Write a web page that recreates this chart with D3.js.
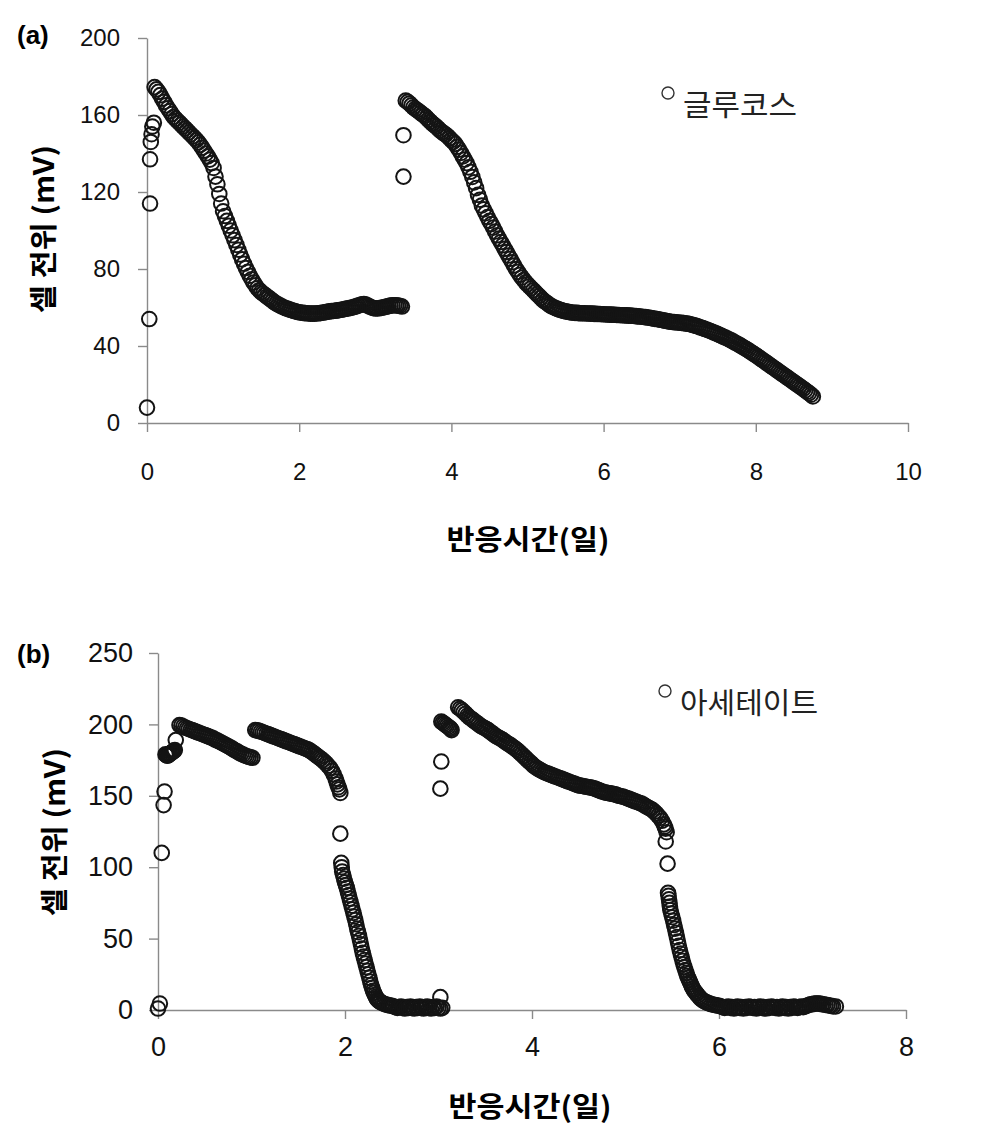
<!DOCTYPE html>
<html>
<head>
<meta charset="utf-8">
<script src="https://cdn.jsdelivr.net/npm/d3@7"></script>
<style>
  html, body { margin: 0; padding: 0; background: #fff; }
  .axis .domain, .axis .tick line { stroke: #8a8a8a; stroke-width: 1.4; }
  .axis .tick text { font-family: "Liberation Sans", Arial, sans-serif; fill: #111; }
</style>
</head>
<body>
<div id="chart"></div>
<script>
// ---- data: [day, mV] ----
// (a) glucose, two feeding runs
const glucoseRun1 = [
  [0, 8], [0.03, 54], [0.04, 114], [0.04, 137], [0.05, 146], [0.06, 150], [0.07, 154], [0.09, 156],
  [0.100, 174.5], [0.125, 173.3], [0.150, 172], [0.175, 170.3], [0.200, 168.5], [0.225, 166.8],
  [0.250, 165], [0.275, 163.5], [0.300, 162], [0.325, 160.5], [0.350, 159], [0.375, 158],
  [0.400, 157], [0.425, 156], [0.450, 155], [0.475, 154], [0.500, 153], [0.525, 152],
  [0.550, 151], [0.575, 150], [0.600, 149], [0.625, 148], [0.650, 147], [0.675, 145.8],
  [0.700, 144.5], [0.725, 143], [0.750, 141.5], [0.775, 140], [0.800, 138.5], [0.825, 136.8],
  [0.850, 135], [0.875, 132.5], [0.900, 128], [0.925, 124], [0.950, 119], [0.975, 114],
  [1.000, 110], [1.025, 107.5], [1.050, 105], [1.075, 102.5], [1.100, 100], [1.125, 97.5],
  [1.150, 95], [1.175, 92.5], [1.200, 90], [1.225, 87.5], [1.250, 85], [1.275, 82.7],
  [1.300, 80.5], [1.325, 78.5], [1.350, 76.5], [1.375, 74.7], [1.400, 73], [1.425, 71.5],
  [1.450, 70], [1.475, 69], [1.500, 68], [1.525, 67.2], [1.550, 66.5], [1.575, 65.7],
  [1.600, 65], [1.625, 64.2], [1.650, 63.5], [1.675, 62.7], [1.700, 62], [1.725, 61.5],
  [1.750, 61], [1.775, 60.5], [1.800, 60], [1.825, 59.6], [1.850, 59.3], [1.875, 58.9],
  [1.900, 58.6], [1.925, 58.3], [1.950, 58], [1.975, 57.7], [2.000, 57.5], [2.025, 57.3],
  [2.050, 57.2], [2.075, 57.1], [2.100, 57], [2.125, 56.9], [2.150, 56.8], [2.175, 56.8],
  [2.200, 56.8], [2.225, 56.9], [2.250, 57], [2.275, 57.1], [2.300, 57.3], [2.325, 57.4],
  [2.350, 57.6], [2.375, 57.8], [2.400, 58], [2.425, 58.1], [2.450, 58.2], [2.475, 58.3],
  [2.500, 58.5], [2.525, 58.6], [2.550, 58.8], [2.575, 59], [2.600, 59.2], [2.625, 59.4],
  [2.650, 59.6], [2.675, 59.8], [2.700, 60], [2.725, 60.3], [2.750, 60.6], [2.775, 61],
  [2.800, 61.3], [2.825, 61.6], [2.850, 61.8], [2.875, 61.5], [2.900, 61], [2.925, 60.5],
  [2.950, 60], [2.975, 59.7], [3.000, 59.5], [3.025, 59.5], [3.050, 59.6], [3.075, 59.8],
  [3.100, 60], [3.125, 60.2], [3.150, 60.5], [3.175, 60.7], [3.200, 61], [3.225, 61.1],
  [3.250, 61.2], [3.275, 61.1], [3.300, 61], [3.325, 60.8], [3.350, 60.5]
];
const glucoseRun2 = [
  [3.37, 128], [3.37, 149.5],
  [3.400, 167.5], [3.425, 166.8], [3.450, 166], [3.475, 165], [3.500, 164], [3.525, 163.2],
  [3.550, 162.5], [3.575, 161.8], [3.600, 161], [3.625, 160.2], [3.650, 159.5], [3.675, 158.5],
  [3.700, 157.5], [3.725, 156.5], [3.750, 155.5], [3.775, 154.8], [3.800, 154], [3.825, 153],
  [3.850, 152], [3.875, 151.2], [3.900, 150.5], [3.925, 149.8], [3.950, 149], [3.975, 148],
  [4.000, 147], [4.025, 146], [4.050, 145], [4.075, 143.5], [4.100, 142], [4.125, 140.3],
  [4.150, 138.5], [4.175, 136.8], [4.200, 135], [4.225, 132.8], [4.250, 130.5], [4.275, 127.8],
  [4.300, 125], [4.325, 122], [4.350, 118.5], [4.375, 116], [4.400, 113], [4.425, 111],
  [4.450, 109], [4.475, 107], [4.500, 105], [4.525, 103.3], [4.550, 101.5], [4.575, 99.5],
  [4.600, 97.5], [4.625, 95.8], [4.650, 94], [4.675, 92.3], [4.700, 90.5], [4.725, 88.8],
  [4.750, 87], [4.775, 85.3], [4.800, 83.5], [4.825, 81.8], [4.850, 80], [4.875, 78.5],
  [4.900, 77], [4.925, 75.6], [4.950, 74.3], [4.975, 73.1], [5.000, 72], [5.025, 71],
  [5.050, 70], [5.075, 69], [5.100, 68], [5.125, 67], [5.150, 66], [5.175, 65],
  [5.200, 64], [5.225, 63.2], [5.250, 62.5], [5.275, 61.7], [5.300, 61], [5.325, 60.5],
  [5.350, 60], [5.375, 59.6], [5.400, 59.2], [5.425, 58.8], [5.450, 58.5], [5.475, 58.2],
  [5.500, 58], [5.525, 57.8], [5.550, 57.6], [5.575, 57.4], [5.600, 57.3], [5.625, 57.2],
  [5.650, 57.2], [5.675, 57.1], [5.700, 57], [5.725, 57], [5.750, 57], [5.775, 56.9],
  [5.800, 56.9], [5.825, 56.8], [5.850, 56.8], [5.875, 56.7], [5.900, 56.7], [5.925, 56.6],
  [5.950, 56.6], [5.975, 56.5], [6.000, 56.5], [6.025, 56.4], [6.050, 56.4], [6.075, 56.3],
  [6.100, 56.3], [6.125, 56.2], [6.150, 56.2], [6.175, 56.1], [6.200, 56.1], [6.225, 56],
  [6.250, 56], [6.275, 55.9], [6.300, 55.9], [6.325, 55.8], [6.350, 55.8], [6.375, 55.7],
  [6.400, 55.6], [6.425, 55.5], [6.450, 55.4], [6.475, 55.3], [6.500, 55.2], [6.525, 55.1],
  [6.550, 55], [6.575, 54.8], [6.600, 54.7], [6.625, 54.5], [6.650, 54.3], [6.675, 54.1],
  [6.700, 54], [6.725, 53.8], [6.750, 53.6], [6.775, 53.4], [6.800, 53.2], [6.825, 53],
  [6.850, 52.8], [6.875, 52.6], [6.900, 52.5], [6.925, 52.4], [6.950, 52.3], [6.975, 52.2],
  [7.000, 52.1], [7.025, 52], [7.050, 51.9], [7.075, 51.7], [7.100, 51.6], [7.125, 51.4],
  [7.150, 51.2], [7.175, 50.9], [7.200, 50.6], [7.225, 50.3], [7.250, 50], [7.275, 49.6],
  [7.300, 49.3], [7.325, 48.9], [7.350, 48.6], [7.375, 48.2], [7.400, 47.8], [7.425, 47.4],
  [7.450, 47], [7.475, 46.6], [7.500, 46.2], [7.525, 45.7], [7.550, 45.3], [7.575, 44.8],
  [7.600, 44.4], [7.625, 43.9], [7.650, 43.4], [7.675, 42.9], [7.700, 42.4], [7.725, 41.8],
  [7.750, 41.3], [7.775, 40.7], [7.800, 40.2], [7.825, 39.6], [7.850, 39], [7.875, 38.4],
  [7.900, 37.8], [7.925, 37.1], [7.950, 36.5], [7.975, 35.8], [8.000, 35.2], [8.025, 34.5],
  [8.050, 33.8], [8.075, 33.1], [8.100, 32.4], [8.125, 31.7], [8.150, 31], [8.175, 30.3],
  [8.200, 29.6], [8.225, 28.9], [8.250, 28.2], [8.275, 27.5], [8.300, 26.8], [8.325, 26.1],
  [8.350, 25.4], [8.375, 24.7], [8.400, 24], [8.425, 23.3], [8.450, 22.6], [8.475, 21.9],
  [8.500, 21.2], [8.525, 20.5], [8.550, 19.8], [8.575, 19.1], [8.600, 18.4], [8.625, 17.7],
  [8.650, 17], [8.675, 16.2], [8.700, 15.5], [8.725, 14.7], [8.750, 13.8]
];

// (b) acetate, three feeding runs
const acetateRun1 = [
  [0.00, 1], [0.02, 4.5], [0.04, 110], [0.06, 143.5], [0.07, 153],
  [0.08, 179], [0.09, 178.5], [0.10, 178], [0.11, 178.5], [0.12, 179], [0.13, 179.5],
  [0.14, 180], [0.15, 180.5], [0.16, 181], [0.17, 181.5], [0.18, 182], [0.19, 189],
  [0.23, 199.5], [0.25, 199.2], [0.27, 198.5], [0.29, 197.8], [0.31, 197.3], [0.33, 196.8],
  [0.35, 196.3], [0.37, 195.8], [0.39, 195.3], [0.41, 194.8], [0.43, 194.3], [0.45, 193.8],
  [0.47, 193.3], [0.49, 192.8], [0.51, 192.3], [0.53, 191.8], [0.55, 191.3], [0.57, 190.8],
  [0.59, 190.2], [0.61, 189.4], [0.63, 188.8], [0.65, 188.2], [0.67, 187.5], [0.69, 186.8],
  [0.71, 186.1], [0.73, 185.4], [0.75, 184.7], [0.77, 184], [0.79, 183.2], [0.81, 182.4],
  [0.83, 181.6], [0.85, 180.9], [0.87, 180.1], [0.89, 179.4], [0.91, 178.8], [0.93, 178.2],
  [0.95, 177.7], [0.97, 177.3], [0.99, 176.9], [1.01, 176.6]
];
const acetateRun2 = [
  [1.04, 196], [1.06, 195.8], [1.08, 195.5], [1.10, 195], [1.12, 194.5], [1.14, 194],
  [1.16, 193.5], [1.18, 193], [1.20, 192.5], [1.22, 192], [1.24, 191.5], [1.26, 191],
  [1.28, 190.5], [1.30, 190], [1.32, 189.5], [1.34, 189], [1.36, 188.5], [1.38, 188],
  [1.40, 187.5], [1.42, 187], [1.44, 186.5], [1.46, 186], [1.48, 185.5], [1.50, 185],
  [1.52, 184.5], [1.54, 184], [1.56, 183.5], [1.58, 183], [1.60, 182.5], [1.62, 181.8],
  [1.64, 181], [1.66, 180], [1.68, 179], [1.70, 178], [1.72, 177], [1.74, 176], [1.76, 175],
  [1.78, 173.8], [1.80, 172.5], [1.82, 171], [1.84, 169.5], [1.86, 167.5], [1.88, 165],
  [1.90, 162], [1.91, 160], [1.92, 158], [1.93, 156], [1.94, 154.5], [1.95, 152],
  [1.95, 123.5],
  [1.96, 103], [1.965, 100], [1.97, 97], [1.98, 94.5], [1.99, 92], [2.00, 89.5], [2.01, 87.5],
  [2.02, 85.5], [2.03, 83], [2.04, 80.5], [2.05, 78], [2.06, 75.5], [2.07, 73], [2.08, 70.5],
  [2.09, 68], [2.10, 65.5], [2.11, 63], [2.12, 60], [2.13, 57], [2.14, 54.5], [2.15, 52],
  [2.16, 49], [2.17, 46], [2.18, 43], [2.19, 40], [2.20, 37.5], [2.21, 35], [2.22, 32.5],
  [2.23, 30], [2.24, 27.5], [2.25, 25], [2.26, 22.5], [2.27, 20], [2.28, 17.5], [2.29, 15.5],
  [2.30, 13.5], [2.31, 12], [2.32, 10.5], [2.33, 9.2], [2.34, 8], [2.35, 7.2], [2.36, 6.5],
  [2.37, 6], [2.38, 5.5], [2.40, 4.8], [2.42, 4.2], [2.44, 3.8], [2.46, 3.4], [2.48, 3.2],
  [2.50, 3], [2.52, 2.5], [2.54, 2], [2.56, 1.5], [2.58, 2], [2.60, 2.5], [2.62, 1.5],
  [2.64, 1], [2.66, 2], [2.68, 1.5], [2.70, 2.5], [2.72, 1.5], [2.74, 1], [2.76, 2],
  [2.78, 1.5], [2.80, 2.5], [2.82, 1.5], [2.84, 1], [2.86, 2], [2.88, 2.5], [2.90, 1.5],
  [2.92, 1], [2.94, 2], [2.96, 1.5], [2.98, 2.5], [3.00, 1.5], [3.02, 1], [3.04, 1.5],
  [3.02, 9]
];
const acetateRun3 = [
  [3.02, 155], [3.03, 174],
  [3.03, 202], [3.045, 201.2], [3.06, 200.5], [3.075, 199.7], [3.09, 199], [3.105, 198.2],
  [3.12, 197.5], [3.13, 196.8], [3.14, 196],
  [3.21, 212], [3.23, 211], [3.25, 210], [3.27, 208.8], [3.29, 207.5], [3.31, 206.2],
  [3.33, 205], [3.35, 204], [3.37, 203], [3.39, 202], [3.41, 201], [3.43, 200], [3.45, 199],
  [3.47, 198.2], [3.49, 197.5], [3.51, 196.8], [3.53, 196], [3.55, 195], [3.57, 194],
  [3.59, 193], [3.61, 192], [3.63, 191.2], [3.65, 190.5], [3.67, 189.8], [3.69, 189],
  [3.71, 188], [3.73, 187], [3.75, 186.2], [3.77, 185.5], [3.79, 184.5], [3.81, 183.5],
  [3.83, 182.5], [3.85, 181.5], [3.87, 180.2], [3.89, 179], [3.91, 177.8], [3.93, 176.5],
  [3.95, 175.2], [3.97, 174], [3.99, 172.8], [4.01, 171.5], [4.03, 170.5], [4.05, 169.5],
  [4.07, 168.7], [4.09, 168], [4.11, 167.2], [4.13, 166.5], [4.15, 166], [4.17, 165.5],
  [4.19, 165], [4.21, 164.5], [4.23, 164], [4.25, 163.5], [4.27, 163], [4.29, 162.5],
  [4.31, 162], [4.33, 161.5], [4.35, 161], [4.37, 160.5], [4.39, 160], [4.41, 159.5],
  [4.43, 159], [4.45, 158.5], [4.47, 158], [4.49, 157.5], [4.51, 157.2], [4.53, 157],
  [4.55, 156.7], [4.57, 156.5], [4.59, 156.2], [4.61, 156], [4.63, 155.7], [4.65, 155.5],
  [4.67, 155], [4.69, 154.5], [4.71, 154], [4.73, 153.5], [4.75, 153], [4.77, 152.5],
  [4.79, 152.2], [4.81, 152], [4.83, 151.7], [4.85, 151.5], [4.87, 151.2], [4.89, 151],
  [4.91, 150.5], [4.93, 150], [4.95, 149.7], [4.97, 149.5], [4.99, 149], [5.01, 148.5],
  [5.03, 148], [5.05, 147.5], [5.07, 147], [5.09, 146.5], [5.11, 146], [5.13, 145.5],
  [5.15, 145], [5.17, 144.5], [5.19, 143.8], [5.21, 143], [5.23, 142.2], [5.25, 141.5],
  [5.27, 140.8], [5.29, 140], [5.31, 138.8], [5.33, 137.5], [5.35, 136], [5.37, 134.5],
  [5.39, 132.5], [5.41, 130], [5.42, 128.5], [5.43, 127], [5.44, 124.5],
  [5.43, 118], [5.45, 102.5],
  [5.455, 82], [5.46, 80], [5.465, 77.5], [5.47, 75], [5.475, 72.5], [5.48, 70], [5.49, 67.5],
  [5.50, 65], [5.51, 62.5], [5.52, 59.5], [5.53, 57], [5.54, 54], [5.55, 51], [5.56, 48],
  [5.57, 45], [5.58, 42], [5.59, 39.5], [5.60, 37], [5.61, 34.5], [5.62, 32], [5.63, 30],
  [5.64, 28], [5.65, 26], [5.66, 24], [5.67, 22.5], [5.68, 21], [5.69, 19.5], [5.70, 18],
  [5.71, 16.5], [5.72, 15.2], [5.73, 14], [5.745, 12.7], [5.76, 11.5], [5.775, 10.2],
  [5.79, 9], [5.805, 8], [5.82, 7], [5.84, 6.2], [5.86, 5.5], [5.88, 5], [5.90, 4.5],
  [5.92, 4], [5.94, 3.7], [5.96, 3.4], [5.98, 3.2], [6.00, 3],
  [6.02, 2.5], [6.04, 2], [6.06, 1.5], [6.08, 2], [6.10, 2.5], [6.12, 1.5], [6.14, 2],
  [6.16, 1], [6.18, 2], [6.20, 2.5], [6.22, 1.5], [6.24, 2], [6.26, 1], [6.28, 2],
  [6.30, 1.5], [6.32, 2.5], [6.34, 2], [6.36, 1.5], [6.38, 2], [6.40, 1], [6.42, 2],
  [6.44, 2.5], [6.46, 1.5], [6.48, 2], [6.50, 1], [6.52, 2], [6.54, 1.5], [6.56, 2.5],
  [6.58, 2], [6.60, 1.5], [6.62, 2], [6.64, 1], [6.66, 2], [6.68, 2.5], [6.70, 1.5],
  [6.72, 2], [6.74, 1], [6.76, 2], [6.78, 1.5], [6.80, 2.5], [6.82, 2], [6.84, 1.5],
  [6.86, 2], [6.88, 2.5], [6.90, 2], [6.92, 2.5], [6.94, 3], [6.96, 3.5], [6.98, 4],
  [7.00, 4], [7.02, 4.5], [7.04, 4.5], [7.06, 4.5], [7.08, 4.5], [7.10, 4], [7.12, 4],
  [7.14, 3.5], [7.16, 3.5], [7.18, 3], [7.20, 3], [7.22, 2.5], [7.25, 2.5]
];

const glucoseXTicks = [0, 2, 4, 6, 8, 10];
const glucoseYTicks = [0, 40, 80, 120, 160, 200];
const acetateXTicks = [0, 2, 4, 6, 8];
const acetateYTicks = [0, 50, 100, 150, 200, 250];

const xTitle = "반응시간(일)";
const yTitle = "셀 전위 (mV)";

const svg = d3.select("#chart")
  .append("svg")
  .attr("width", 987)
  .attr("height", 1133)
  .style("background", "#fff");

const cjk = '"Noto Sans CJK KR", "Noto Sans", sans-serif';

function drawPanel(opt) {
  var x = d3.scaleLinear().domain(opt.xDomain).range(opt.xRange);
  var y = d3.scaleLinear().domain(opt.yDomain).range(opt.yRange);
  var g = svg.append("g");

  // axes
  g.append("g")
    .attr("class", "axis")
    .attr("transform", `translate(0, ${opt.yRange[0]})`)
    .call(d3.axisBottom(x).tickValues(opt.xTicks).tickSize(9).tickSizeOuter(0).tickPadding(opt.xPad))
    .selectAll("text").style("font-size", opt.tickFont + "px");

  g.append("g")
    .attr("class", "axis")
    .attr("transform", `translate(${opt.xRange[0]}, 0)`)
    .call(d3.axisLeft(y).tickValues(opt.yTicks).tickSize(9).tickSizeOuter(0).tickPadding(opt.yPad))
    .selectAll("text").style("font-size", opt.tickFont + "px");

  // points: open circles, heavy enough that the dense runs read as a dark band
  opt.runs.forEach(run => {
    g.append("g").selectAll("circle")
      .data(run)
      .enter().append("circle")
      .attr("cx", d => x(d[0]))
      .attr("cy", d => y(d[1]))
      .attr("r", 7.3)
      .attr("fill", "none")
      .attr("stroke", "#141414")
      .attr("stroke-width", 2);
  });

  // panel letter
  g.append("text")
    .attr("x", 17).attr("y", opt.letterY)
    .style("font-family", '"Liberation Sans", Arial, sans-serif')
    .style("font-weight", "bold")
    .style("font-size", "26px")
    .text(opt.letter);

  // axis titles
  g.append("text")
    .attr("x", opt.xTitlePos[0]).attr("y", opt.xTitlePos[1])
    .attr("text-anchor", "middle")
    .attr("dominant-baseline", "central")
    .attr("textLength", 163)
    .attr("lengthAdjust", "spacingAndGlyphs")
    .style("font-family", cjk)
    .style("font-weight", "bold")
    .style("font-size", "28px")
    .text(xTitle);

  g.append("text")
    .attr("transform", `translate(${opt.yTitlePos[0]}, ${opt.yTitlePos[1]}) rotate(-90)`)
    .attr("text-anchor", "middle")
    .attr("dominant-baseline", "central")
    .attr("textLength", 168)
    .attr("lengthAdjust", "spacingAndGlyphs")
    .style("font-family", cjk)
    .style("font-weight", "bold")
    .style("font-size", "28px")
    .text(yTitle);

  // legend
  g.append("circle")
    .attr("cx", opt.legendPos[0]).attr("cy", opt.legendPos[1])
    .attr("r", 6)
    .attr("fill", "none")
    .attr("stroke", "#333")
    .attr("stroke-width", 1.4);
  g.append("text")
    .attr("x", opt.legendPos[0] + 15).attr("y", opt.legendPos[1] + 10)
    .attr("dominant-baseline", "central")
    .attr("textLength", opt.legendWidth)
    .attr("lengthAdjust", "spacingAndGlyphs")
    .style("font-family", cjk)
    .style("font-size", "29px")
    .style("fill", "#222")
    .text(opt.legendLabel);
}

drawPanel({
  xDomain: [0, 10], xRange: [147, 908],
  yDomain: [0, 200], yRange: [423, 38],
  xTicks: glucoseXTicks, yTicks: glucoseYTicks,
  xPad: 31, yPad: 18, tickFont: 24,
  runs: [glucoseRun1, glucoseRun2],
  letter: "(a)", letterY: 44,
  xTitlePos: [528, 538], yTitlePos: [42, 229],
  legendPos: [668, 93], legendLabel: "글루코스", legendWidth: 114
});

drawPanel({
  xDomain: [0, 8], xRange: [158, 906],
  yDomain: [0, 250], yRange: [1010, 653],
  xTicks: acetateXTicks, yTicks: acetateYTicks,
  xPad: 18, yPad: 16, tickFont: 27,
  runs: [acetateRun1, acetateRun2, acetateRun3],
  letter: "(b)", letterY: 663,
  xTitlePos: [530, 1105], yTitlePos: [53, 832],
  legendPos: [665, 691], legendLabel: "아세테이트", legendWidth: 138
});
</script>
</body>
</html>
